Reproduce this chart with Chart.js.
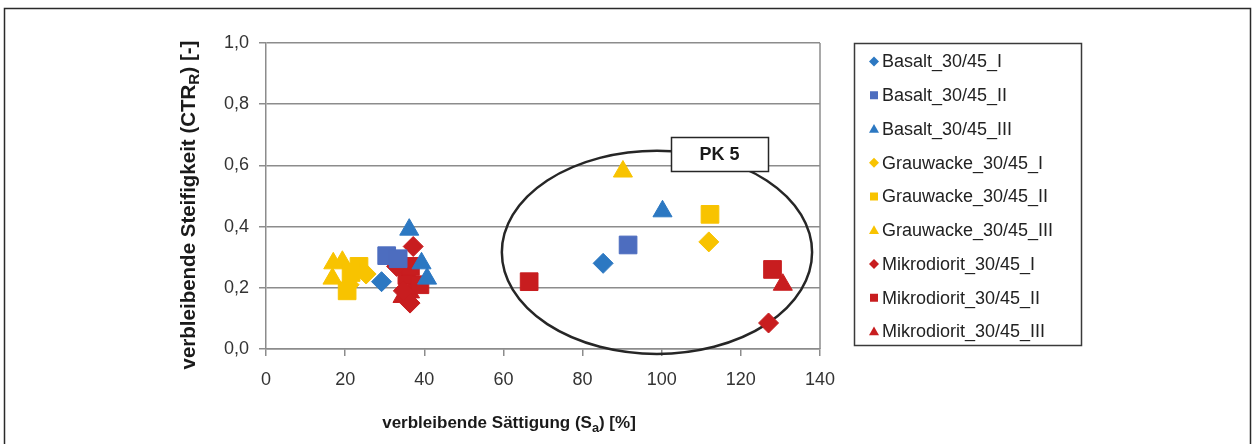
<!DOCTYPE html>
<html>
<head>
<meta charset="utf-8">
<script src="https://cdn.jsdelivr.net/npm/chart.js@4/dist/chart.umd.min.js"></script>
<style>
  html, body { margin: 0; padding: 0; background: #fff; }
  canvas { display: block; }
</style>
</head>
<body>
<canvas id="satChart" width="1255" height="444"></canvas>
<script>
// Series data (x = Sättigung %, y = CTR_R)
const seriesLabels = [
    'Basalt_30/45_I', 'Basalt_30/45_II', 'Basalt_30/45_III',
    'Grauwacke_30/45_I', 'Grauwacke_30/45_II', 'Grauwacke_30/45_III',
    'Mikrodiorit_30/45_I', 'Mikrodiorit_30/45_II', 'Mikrodiorit_30/45_III'
];
const basaltI = [{x: 29.2, y: 0.22}, {x: 85.2, y: 0.28}];
const basaltII = [{x: 30.5, y: 0.305}, {x: 33.4, y: 0.295}, {x: 91.5, y: 0.34}];
const basaltIII = [{x: 36.2, y: 0.39}, {x: 39.3, y: 0.28}, {x: 40.7, y: 0.23}, {x: 100.2, y: 0.45}];
const grauwackeI = [{x: 22.5, y: 0.25}, {x: 25.3, y: 0.245}, {x: 21, y: 0.21}, {x: 111.9, y: 0.35}];
const grauwackeII = [{x: 20.5, y: 0.19}, {x: 23.5, y: 0.27}, {x: 21.5, y: 0.25}, {x: 112.2, y: 0.44}];
const grauwackeIII = [{x: 17, y: 0.28}, {x: 19.3, y: 0.285}, {x: 16.8, y: 0.23}, {x: 90.2, y: 0.58}];
const mikroI = [{x: 37.2, y: 0.335}, {x: 33, y: 0.27}, {x: 36.4, y: 0.15}, {x: 34.7, y: 0.19}, {x: 127, y: 0.085}];
const mikroII = [{x: 35.6, y: 0.24}, {x: 38.9, y: 0.21}, {x: 36.5, y: 0.27}, {x: 66.5, y: 0.22}, {x: 128, y: 0.26}];
const mikroIII = [{x: 36.4, y: 0.185}, {x: 34.5, y: 0.17}, {x: 130.6, y: 0.21}];

const xTicks = [0, 20, 40, 60, 80, 100, 120, 140];
const yTicks = [0, 0.2, 0.4, 0.6, 0.8, 1.0];

// PK 5 ellipse in data units
const pkEllipse = {cx: 98.8, cy: 0.316, rx: 39.2, ry: 0.332};
const pkLabel = 'PK 5';

const BLUE = '#2c78c2';
const BLUE2 = '#4d6dbf';
const YELLOW = '#f8c300';
const RED = '#c81d1f';
const FONT = "'Liberation Sans', Arial, sans-serif";

function makeSet(label, data, color, style, radius) {
    return {
        label: label,
        data: data,
        backgroundColor: color,
        borderColor: color,
        borderWidth: 1,
        pointStyle: style,
        pointRadius: radius,
        pointHoverRadius: radius,
        showLine: false
    };
}

// draw a small marker for the legend
function drawMarker(ctx, style, x, y, r, color) {
    ctx.save();
    ctx.fillStyle = color;
    ctx.beginPath();
    if (style === 'rectRot') {
        ctx.moveTo(x, y - r); ctx.lineTo(x + r, y); ctx.lineTo(x, y + r); ctx.lineTo(x - r, y);
    } else if (style === 'rect') {
        ctx.rect(x - r * 0.8, y - r * 0.8, r * 1.6, r * 1.6);
    } else {
        ctx.moveTo(x, y - r); ctx.lineTo(x + r, y + r * 0.75); ctx.lineTo(x - r, y + r * 0.75);
    }
    ctx.closePath();
    ctx.fill();
    ctx.restore();
}

// text with one subscript part
function drawSubText(ctx, parts, size) {
    let total = 0;
    parts.forEach(p => {
        ctx.font = 'bold ' + (p.sub ? size * 0.75 : size) + 'px ' + FONT;
        p.w = ctx.measureText(p.t).width;
        total += p.w;
    });
    let x = -total / 2;
    parts.forEach(p => {
        ctx.font = 'bold ' + (p.sub ? size * 0.75 : size) + 'px ' + FONT;
        ctx.fillText(p.t, x, p.sub ? size * 0.3 : 0);
        x += p.w;
    });
}

const decorPlugin = {
    id: 'decor',
    beforeDraw(chart) {
        const ctx = chart.ctx;
        ctx.save();
        ctx.fillStyle = '#fff';
        ctx.fillRect(0, 0, chart.width, chart.height);
        ctx.strokeStyle = '#2a2a2a';
        ctx.lineWidth = 1.5;
        ctx.strokeRect(4.5, 8.5, 1246, 460);
        ctx.restore();
    },
    beforeDatasetsDraw(chart) {
        const ctx = chart.ctx;
        const xs = chart.scales.x, ys = chart.scales.y;
        const area = chart.chartArea;
        ctx.save();
        // right border of plot area
        ctx.strokeStyle = '#8c8c8c';
        ctx.lineWidth = 1.5;
        ctx.beginPath();
        ctx.moveTo(area.right, area.top);
        ctx.lineTo(area.right, area.bottom);
        ctx.stroke();
        // PK 5 ellipse
        const cx = xs.getPixelForValue(pkEllipse.cx);
        const cy = ys.getPixelForValue(pkEllipse.cy);
        const rx = xs.getPixelForValue(pkEllipse.cx + pkEllipse.rx) - cx;
        const ry = cy - ys.getPixelForValue(pkEllipse.cy + pkEllipse.ry);
        ctx.strokeStyle = '#262626';
        ctx.lineWidth = 2.5;
        ctx.beginPath();
        ctx.ellipse(cx, cy, rx, ry, 0, 0, Math.PI * 2);
        ctx.stroke();
        ctx.restore();
    },
    afterDraw(chart) {
        const ctx = chart.ctx;
        ctx.save();
        // PK 5 label box
        ctx.fillStyle = '#fff';
        ctx.strokeStyle = '#262626';
        ctx.lineWidth = 1.5;
        ctx.fillRect(671, 137, 97, 34);
        ctx.strokeRect(671.5, 137.5, 97, 34);
        ctx.fillStyle = '#1a1a1a';
        ctx.font = 'bold 18px ' + FONT;
        ctx.textAlign = 'center';
        ctx.textBaseline = 'middle';
        ctx.fillText(pkLabel, 719.5, 155);

        // axis titles
        ctx.fillStyle = '#1a1a1a';
        ctx.textAlign = 'left';
        ctx.textBaseline = 'middle';
        ctx.save();
        ctx.translate(509, 423);
        drawSubText(ctx, [{t: 'verbleibende Sättigung (S'}, {t: 'a', sub: true}, {t: ') [%]'}], 17);
        ctx.restore();
        ctx.save();
        ctx.translate(189, 205);
        ctx.rotate(-Math.PI / 2);
        drawSubText(ctx, [{t: 'verbleibende Steifigkeit (CTR'}, {t: 'R', sub: true}, {t: ') [-]'}], 20.5);
        ctx.restore();

        // legend
        ctx.strokeStyle = '#3a3a3a';
        ctx.lineWidth = 1.5;
        ctx.strokeRect(854.5, 43.5, 227, 302);
        ctx.font = '18px ' + FONT;
        ctx.fillStyle = '#222';
        ctx.textAlign = 'left';
        chart.data.datasets.forEach((ds, i) => {
            const y = 61.5 + i * 33.75;
            drawMarker(ctx, ds.pointStyle, 874, y, 5, ds.backgroundColor);
            ctx.fillStyle = '#222';
            ctx.fillText(ds.label, 882, y + 1);
        });
        ctx.restore();
    }
};

const ctx = document.getElementById('satChart').getContext('2d');
const satChart = new Chart(ctx, {
    type: 'scatter',
    data: {
        datasets: [
            makeSet(seriesLabels[0], basaltI, BLUE, 'rectRot', 10),
            makeSet(seriesLabels[1], basaltII, BLUE2, 'rect', 12.5),
            makeSet(seriesLabels[2], basaltIII, BLUE, 'triangle', 11),
            makeSet(seriesLabels[3], grauwackeI, YELLOW, 'rectRot', 10),
            makeSet(seriesLabels[4], grauwackeII, YELLOW, 'rect', 12.5),
            makeSet(seriesLabels[5], grauwackeIII, YELLOW, 'triangle', 11),
            makeSet(seriesLabels[6], mikroI, RED, 'rectRot', 10),
            makeSet(seriesLabels[7], mikroII, RED, 'rect', 12.5),
            makeSet(seriesLabels[8], mikroIII, RED, 'triangle', 11)
        ]
    },
    options: {
        responsive: false,
        devicePixelRatio: 1,
        animation: false,
        events: [],
        layout: {
            padding: {left: 0, top: 43, right: 435, bottom: 0}
        },
        plugins: {
            legend: {display: false},
            tooltip: {enabled: false}
        },
        scales: {
            x: {
                type: 'linear',
                min: xTicks[0],
                max: xTicks[xTicks.length - 1],
                afterFit: function(scale) { scale.height = 95; },
                afterBuildTicks: function(scale) {
                    scale.ticks = xTicks.map(v => ({value: v}));
                },
                ticks: {
                    color: '#333',
                    font: {family: FONT, size: 18},
                    padding: 13
                },
                grid: {
                    drawOnChartArea: false,
                    drawTicks: true,
                    tickLength: 7,
                    color: '#8c8c8c',
                    lineWidth: 1.5
                },
                border: {color: '#8c8c8c', width: 1.5}
            },
            y: {
                min: yTicks[0],
                max: yTicks[yTicks.length - 1],
                afterFit: function(scale) { scale.width = 266; },
                afterBuildTicks: function(scale) {
                    scale.ticks = yTicks.map(v => ({value: v}));
                },
                ticks: {
                    color: '#333',
                    font: {family: FONT, size: 18},
                    padding: 10,
                    callback: function(v) { return v.toFixed(1).replace('.', ','); }
                },
                grid: {
                    tickLength: 7,
                    color: '#8c8c8c',
                    lineWidth: 1.5
                },
                border: {color: '#8c8c8c', width: 1.5}
            }
        }
    },
    plugins: [decorPlugin]
});
</script>
</body>
</html>
